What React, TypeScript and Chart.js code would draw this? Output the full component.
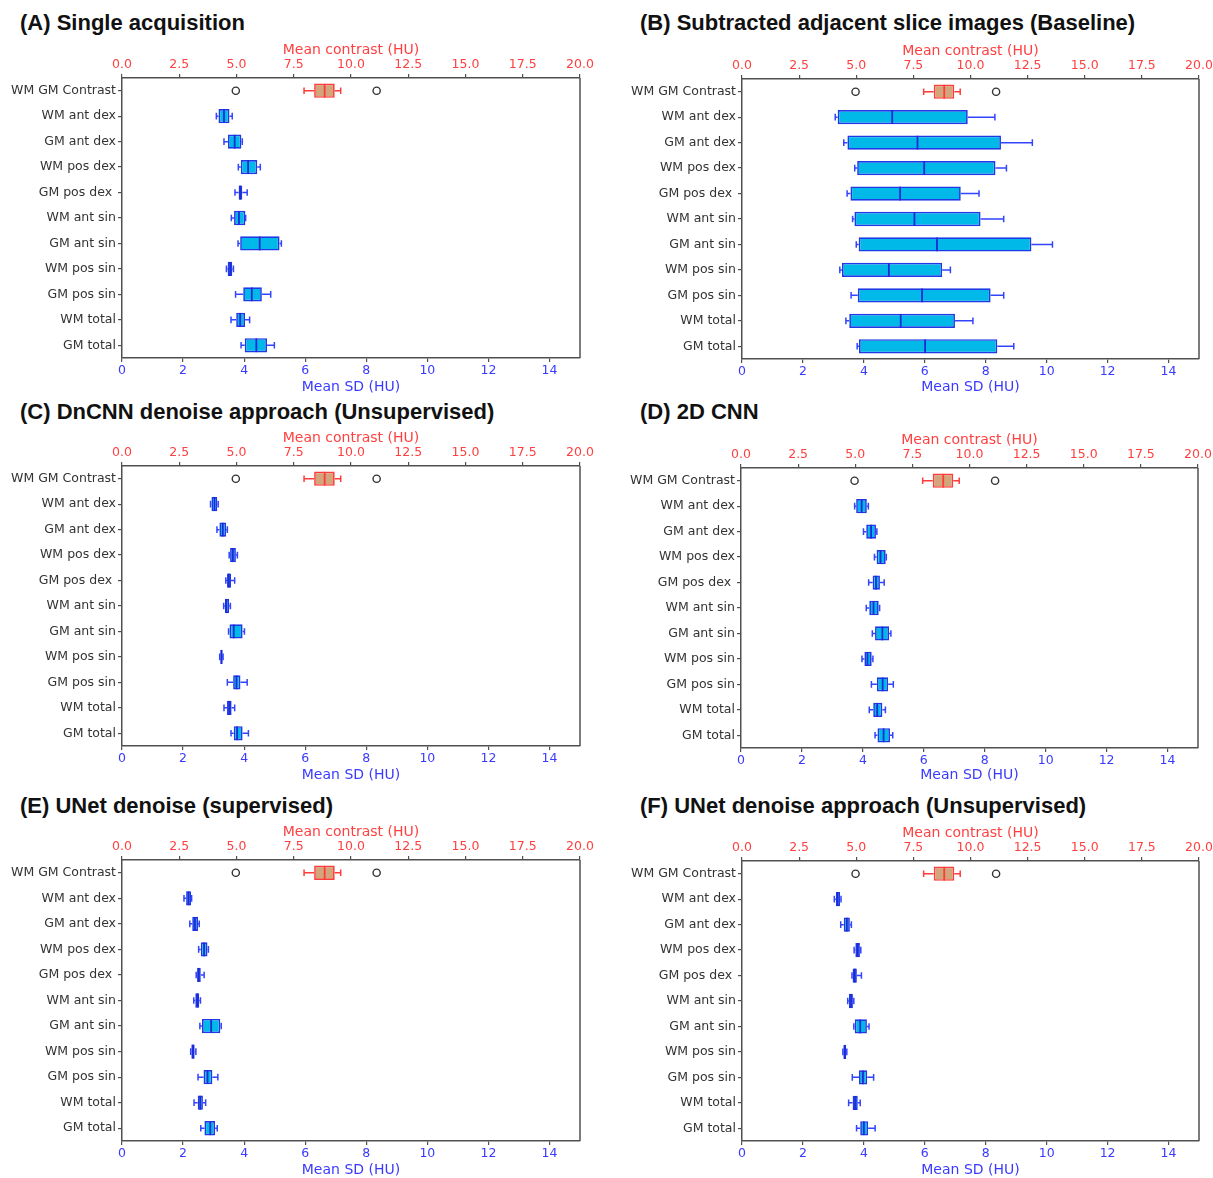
import React, { useEffect, useRef } from 'react';
import { Chart, registerables } from 'chart.js';

Chart.register(...registerables);

// ---------- data ----------
const CATEGORIES = [
  'WM GM Contrast', 'WM ant dex', 'GM ant dex', 'WM pos dex', 'GM pos dex ',
  'WM ant sin', 'GM ant sin', 'WM pos sin', 'GM pos sin', 'WM total', 'GM total',
];
const SD_TICKS = [0, 2, 4, 6, 8, 10, 12, 14];
const CONTRAST_TICKS = [0, 2.5, 5, 7.5, 10, 12.5, 15, 17.5, 20];

// [whisker low, Q1, median, Q3, whisker high]
const CONTRAST_BOX = [7.95, 8.39, 8.85, 9.29, 9.55];
const CONTRAST_OUTLIERS = [4.97, 11.12];

const SINGLE_ACQUISITION = [
  [3.09, 3.16, 3.34, 3.52, 3.61],
  [3.34, 3.47, 3.69, 3.91, 3.94],
  [3.81, 3.89, 4.13, 4.43, 4.53],
  [3.70, 3.82, 3.87, 3.94, 4.10],
  [3.58, 3.67, 3.83, 4.04, 4.05],
  [3.80, 3.87, 4.51, 5.16, 5.22],
  [3.42, 3.46, 3.54, 3.61, 3.65],
  [3.72, 3.97, 4.25, 4.58, 4.87],
  [3.57, 3.74, 3.87, 4.03, 4.18],
  [3.90, 4.02, 4.40, 4.75, 4.99],
];
const SUBTRACTED_BASELINE = [
  [3.06, 3.14, 4.93, 7.41, 8.30],
  [3.34, 3.46, 5.76, 8.50, 9.53],
  [3.70, 3.78, 5.98, 8.32, 8.68],
  [3.45, 3.56, 5.19, 7.18, 7.78],
  [3.63, 3.69, 5.66, 7.83, 8.59],
  [3.75, 3.83, 6.40, 9.50, 10.19],
  [3.21, 3.28, 4.82, 6.57, 6.84],
  [3.58, 3.80, 5.91, 8.16, 8.59],
  [3.41, 3.52, 5.21, 6.99, 7.58],
  [3.78, 3.84, 6.01, 8.38, 8.92],
];
const DNCNN_UNSUPERVISED = [
  [2.90, 2.93, 3.03, 3.12, 3.15],
  [3.11, 3.19, 3.30, 3.41, 3.45],
  [3.51, 3.54, 3.63, 3.73, 3.78],
  [3.40, 3.44, 3.50, 3.57, 3.69],
  [3.33, 3.37, 3.42, 3.51, 3.55],
  [3.49, 3.52, 3.66, 3.95, 4.01],
  [3.20, 3.22, 3.26, 3.29, 3.31],
  [3.45, 3.64, 3.75, 3.88, 4.10],
  [3.34, 3.44, 3.51, 3.59, 3.69],
  [3.57, 3.66, 3.77, 3.95, 4.14],
];
const CNN_2D = [
  [3.73, 3.78, 3.96, 4.13, 4.18],
  [4.02, 4.11, 4.27, 4.43, 4.46],
  [4.38, 4.45, 4.58, 4.75, 4.77],
  [4.19, 4.32, 4.43, 4.56, 4.70],
  [4.11, 4.21, 4.35, 4.52, 4.55],
  [4.31, 4.40, 4.64, 4.86, 4.92],
  [3.97, 4.05, 4.15, 4.29, 4.33],
  [4.28, 4.46, 4.65, 4.83, 5.00],
  [4.21, 4.34, 4.47, 4.64, 4.74],
  [4.40, 4.48, 4.68, 4.89, 4.98],
];
const UNET_SUPERVISED = [
  [2.03, 2.10, 2.18, 2.26, 2.28],
  [2.22, 2.30, 2.39, 2.49, 2.53],
  [2.51, 2.58, 2.69, 2.80, 2.83],
  [2.43, 2.46, 2.51, 2.58, 2.69],
  [2.35, 2.40, 2.47, 2.53, 2.57],
  [2.55, 2.62, 2.92, 3.22, 3.25],
  [2.25, 2.27, 2.33, 2.38, 2.42],
  [2.49, 2.67, 2.80, 2.96, 3.14],
  [2.36, 2.48, 2.56, 2.65, 2.74],
  [2.58, 2.70, 2.89, 3.05, 3.12],
];
const UNET_UNSUPERVISED = [
  [3.03, 3.08, 3.14, 3.22, 3.25],
  [3.24, 3.34, 3.44, 3.54, 3.59],
  [3.68, 3.72, 3.80, 3.87, 3.90],
  [3.61, 3.63, 3.70, 3.77, 3.92],
  [3.47, 3.51, 3.58, 3.64, 3.67],
  [3.67, 3.70, 3.88, 4.10, 4.17],
  [3.31, 3.33, 3.37, 3.42, 3.44],
  [3.62, 3.84, 3.97, 4.11, 4.32],
  [3.50, 3.63, 3.71, 3.80, 3.88],
  [3.76, 3.88, 4.00, 4.14, 4.37],
];

// ---------- styling / layout ----------
const FONT = '"DejaVu Sans", Verdana, sans-serif';
const CYAN = '#00B9E8';
const BOX_EDGE = '#2138E6';
const MEDIAN_BLUE = '#1A2BD4';
const WHISKER_BLUE = '#3344FF';
const TAN = '#D2A57A';
const RED_EDGE = '#FF3C3C';
const RED_TXT = '#FF4040';
const BLUE_TXT = '#3A3AFF';
const AXIS = '#505050';
const Y_AXIS_W = 122;
const RIGHT_PAD = 14;

const PANELS = [
  { title: '(A) Single acquisition', stats: SINGLE_ACQUISITION, tx: 20, ty: 23, pl: 122, pr: 580, pt: 78, pb: 358, topTitleY: 50, bottomTitleY: 387 },
  { title: '(B) Subtracted adjacent slice images (Baseline)', stats: SUBTRACTED_BASELINE, tx: 640, ty: 23, pl: 742, pr: 1199, pt: 79, pb: 359, topTitleY: 51, bottomTitleY: 387 },
  { title: '(C) DnCNN denoise approach (Unsupervised)', stats: DNCNN_UNSUPERVISED, tx: 20, ty: 412, pl: 122, pr: 580, pt: 466, pb: 746, topTitleY: 438, bottomTitleY: 775 },
  { title: '(D) 2D CNN', stats: CNN_2D, tx: 640, ty: 412, pl: 741, pr: 1198, pt: 468, pb: 748, topTitleY: 440, bottomTitleY: 775 },
  { title: '(E) UNet denoise (supervised)', stats: UNET_SUPERVISED, tx: 20, ty: 806, pl: 122, pr: 580, pt: 860, pb: 1141, topTitleY: 832, bottomTitleY: 1170 },
  { title: '(F) UNet denoise approach (Unsupervised)', stats: UNET_UNSUPERVISED, tx: 640, ty: 806, pl: 742, pr: 1199, pt: 861, pb: 1141, topTitleY: 833, bottomTitleY: 1170 },
];

function Panel({ cfg }: { cfg: any }) {
  const ref = useRef<HTMLCanvasElement | null>(null);
  const cx = cfg.pl - Y_AXIS_W;
  const cy = cfg.topTitleY - 10;
  const cw = cfg.pr - cx + RIGHT_PAD;
  const ch = cfg.bottomTitleY + 10 - cy;
  const topH = cfg.pt - cy;
  const botH = cy + ch - cfg.pb;

  useEffect(() => {
    const canvas = ref.current;
    if (!canvas) return;
    const stats: number[][] = cfg.stats;
    const items = [
      { index: 0, axis: 'x2', s: CONTRAST_BOX, whisker: RED_EDGE, median: RED_EDGE },
      ...stats.map((s, i) => ({ index: i + 1, axis: 'x', s, whisker: WHISKER_BLUE, median: MEDIAN_BLUE })),
    ];
    const boxPlugin = {
      id: 'boxWhiskers',
      afterDatasetsDraw(chart: any) {
        const { ctx, chartArea } = chart;
        const y = chart.scales.y;
        const step = Math.abs(y.getPixelForValue(1) - y.getPixelForValue(0));
        ctx.save();
        for (const it of items) {
          const sc = chart.scales[it.axis];
          const yc = y.getPixelForValue(it.index);
          const [wl, q1, md, q3, wh] = it.s.map((v: number) => sc.getPixelForValue(v));
          ctx.strokeStyle = it.whisker;
          ctx.lineWidth = 1.5;
          ctx.beginPath();
          ctx.moveTo(wl, yc); ctx.lineTo(q1, yc);
          ctx.moveTo(q3, yc); ctx.lineTo(wh, yc);
          ctx.moveTo(wl, yc - step * 0.13); ctx.lineTo(wl, yc + step * 0.13);
          ctx.moveTo(wh, yc - step * 0.13); ctx.lineTo(wh, yc + step * 0.13);
          ctx.stroke();
          ctx.strokeStyle = it.median;
          ctx.lineWidth = 1.8;
          ctx.beginPath();
          ctx.moveTo(md, yc - step * 0.27); ctx.lineTo(md, yc + step * 0.27);
          ctx.stroke();
        }
        ctx.strokeStyle = AXIS;
        ctx.lineWidth = 1.5;
        ctx.beginPath();
        ctx.moveTo(chartArea.right, chartArea.top);
        ctx.lineTo(chartArea.right, chartArea.bottom);
        ctx.stroke();
        ctx.restore();
      },
    };

    const tickFont = { family: FONT, size: 12.5 };
    const titleFont = { family: FONT, size: 14 };

    const chart = new Chart(canvas, {
      type: 'bar',
      data: {
        labels: CATEGORIES,
        datasets: [
          {
            label: 'Mean contrast',
            data: CATEGORIES.map((_, i) => (i === 0 ? [CONTRAST_BOX[1], CONTRAST_BOX[3]] : null)),
            xAxisID: 'x2',
            yAxisID: 'y',
            backgroundColor: TAN,
            borderColor: RED_EDGE,
            borderWidth: 1.7,
            borderSkipped: false,
            grouped: false,
            barPercentage: 0.56,
            categoryPercentage: 1,
          } as any,
          {
            label: 'Mean SD',
            data: [null, ...stats.map((s) => [s[1], s[3]])],
            xAxisID: 'x',
            yAxisID: 'y',
            backgroundColor: CYAN,
            borderColor: BOX_EDGE,
            borderWidth: 1.7,
            borderSkipped: false,
            grouped: false,
            barPercentage: 0.56,
            categoryPercentage: 1,
          } as any,
          {
            type: 'scatter',
            label: 'Outliers',
            data: CONTRAST_OUTLIERS.map((v) => ({ x: v, y: CATEGORIES[0] })),
            xAxisID: 'x2',
            yAxisID: 'y',
            pointRadius: 3.6,
            pointBorderColor: '#333',
            pointBackgroundColor: 'rgba(255,255,255,0)',
            pointBorderWidth: 1.4,
          } as any,
        ],
      },
      options: {
        indexAxis: 'y',
        animation: false,
        responsive: false,
        events: [],
        layout: { padding: { left: 0, right: RIGHT_PAD, top: 0, bottom: 0 } },
        plugins: { legend: { display: false }, tooltip: { enabled: false }, title: { display: false } },
        scales: {
          y: {
            type: 'category',
            position: 'left',
            offset: true,
            grid: { drawOnChartArea: false, drawTicks: true, tickLength: 4, color: AXIS, offset: false, lineWidth: 1.2 },
            border: { display: true, color: AXIS, width: 1.5 },
            ticks: { color: '#333', font: tickFont, padding: 2, autoSkip: false },
            afterFit: (s: any) => { s.width = Y_AXIS_W; s.paddingTop = 0; s.paddingBottom = 0; },
          },
          x: {
            type: 'linear',
            position: 'bottom',
            min: 0,
            max: 15,
            afterBuildTicks: (s: any) => { s.ticks = SD_TICKS.map((v) => ({ value: v })); },
            grid: { drawOnChartArea: false, drawTicks: true, tickLength: 4, color: AXIS, lineWidth: 1.2 },
            border: { display: true, color: AXIS, width: 1.5 },
            ticks: { color: BLUE_TXT, font: tickFont, padding: 1, maxRotation: 0, autoSkip: false, callback: (v: any) => String(v) },
            title: { display: true, text: 'Mean SD (HU)', color: BLUE_TXT, font: titleFont, padding: { top: 0, bottom: 1.6 } },
            afterFit: (s: any) => { s.height = botH; s.paddingLeft = 0; s.paddingRight = 0; },
          },
          x2: {
            type: 'linear',
            position: 'top',
            min: 0,
            max: 20,
            afterBuildTicks: (s: any) => { s.ticks = CONTRAST_TICKS.map((v) => ({ value: v })); },
            grid: { drawOnChartArea: false, drawTicks: true, tickLength: 4, color: AXIS, lineWidth: 1.2 },
            border: { display: true, color: AXIS, width: 1.5 },
            ticks: { color: RED_TXT, font: tickFont, padding: 2, maxRotation: 0, autoSkip: false, callback: (v: any) => Number(v).toFixed(1) },
            title: { display: true, text: 'Mean contrast (HU)', color: RED_TXT, font: titleFont, padding: { top: 1.6, bottom: 0 } },
            afterFit: (s: any) => { s.height = topH; s.paddingLeft = 0; s.paddingRight = 0; },
          },
        },
      } as any,
      plugins: [boxPlugin],
    });
    return () => chart.destroy();
  }, [cfg]);

  return (
    <>
      <div
        style={{
          position: 'absolute',
          left: cfg.tx,
          top: cfg.ty - 13,
          height: 26,
          lineHeight: '26px',
          font: 'bold 22px "Liberation Sans", Arial, sans-serif',
          color: '#111',
          whiteSpace: 'nowrap',
        }}
      >
        {cfg.title}
      </div>
      <canvas
        ref={ref}
        width={cw}
        height={ch}
        style={{ position: 'absolute', left: cx, top: cy, width: cw, height: ch }}
      />
    </>
  );
}

export default function App() {
  return (
    <div
      style={{
        position: 'absolute',
        left: 0,
        top: 0,
        width: 1213,
        height: 1178,
        overflow: 'hidden',
        background: '#fff',
      }}
    >
      {PANELS.map((p) => (
        <Panel key={p.title} cfg={p} />
      ))}
    </div>
  );
}
